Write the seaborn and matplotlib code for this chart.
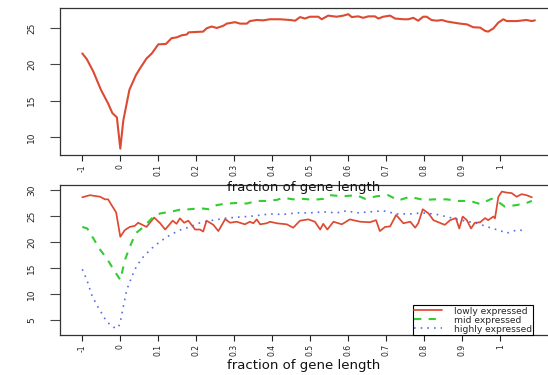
import matplotlib
matplotlib.use("Agg")
import matplotlib.pyplot as plt
import seaborn as sns
import pandas as pd

# ---------------- data (bin position along metagene, value) ----------------
tick_pos = [0, 10, 20, 30, 40, 50, 60, 70, 80, 90, 100, 110]
tick_labels = ["-1", "0", "0.1", "0.2", "0.3", "0.4", "0.5", "0.6", "0.7", "0.8", "0.9", "1"]

top_pos = [0, 1.2, 2.9, 4.9, 6.8, 7.9, 9.1, 10, 10.8, 12.4, 14.1, 15.2, 16.9, 18.3, 20,
           22, 23.5, 24.8, 26.2, 27.5, 28, 31.8, 32.7, 34, 35.4, 37.1, 38, 40.2, 41.5,
           43.3, 44.1, 45.9, 47.6, 49.4, 51.2, 52, 54.7, 56, 57.3, 58.6, 59.9, 62.1, 63,
           64.7, 66.9, 68.7, 70, 70.9, 72.6, 73.9, 75.3, 77, 77.9, 79.2, 81, 82.3, 84.5,
           85.8, 87.1, 88.4, 89.7, 90.6, 91.9, 93.3, 94.6, 95.9, 97.6, 99.4, 101.2, 102.9,
           104.7, 106, 106.8, 108.2, 109.5, 110.8, 111.7, 114.3, 116.9, 118.3, 119.1]
top_val = [21.5, 20.7, 19.0, 16.5, 14.6, 13.3, 12.7, 8.4, 12.3, 16.5, 18.5, 19.45, 20.8, 21.5,
           22.75, 22.8, 23.6, 23.7, 24.0, 24.1, 24.4, 24.5, 24.95, 25.2, 25.0, 25.3, 25.6,
           25.8, 25.6, 25.6, 25.95, 26.1, 26.05, 26.2, 26.2, 26.2, 26.1, 26.0, 26.5, 26.3,
           26.55, 26.55, 26.2, 26.7, 26.55, 26.7, 26.9, 26.5, 26.6, 26.4, 26.6, 26.6, 26.3,
           26.55, 26.7, 26.3, 26.2, 26.2, 26.4, 26.0, 26.55, 26.55, 26.1, 26.0, 26.1, 25.9,
           25.75, 25.6, 25.5, 25.1, 25.05, 24.6, 24.5, 24.95, 25.75, 26.2, 25.95, 25.95,
           26.1, 25.95, 26.05]

low_pos = [0, 2.0, 4.7, 6.0, 6.8, 7.7, 8.9, 10, 11.2, 12.5, 13.8, 14.7, 16.9, 18.9, 20.5,
           21.8, 23.8, 24.8, 25.7, 26.8, 27.9, 29.7, 31.0, 31.8, 32.7, 34.5, 35.8, 37.6,
           38.9, 40.6, 42.8, 44.1, 45.0, 45.9, 46.8, 48.5, 49.4, 51.2, 53.8, 55.5, 57.3,
           59.5, 61.2, 62.6, 63.4, 64.5, 66.1, 68.3, 70.4, 73.1, 75.7, 77.3, 78.3, 79.7,
           81.0, 82.6, 84.5, 86.3, 87.6, 88.4, 89.6, 91.1, 92.4, 93.7, 95.4, 96.8, 98.3,
           99.2, 100.1, 101.2, 102.3, 103.3, 104.7, 106.0, 106.8, 108.2, 108.6, 109.5,
           110.4, 111.7, 113.0, 114.3, 115.6, 116.9, 118.3]
low_val = [28.6, 29.0, 28.7, 28.2, 28.2, 27.1, 25.7, 21.0, 22.3, 22.9, 23.1, 23.7, 22.9,
           24.7, 23.6, 22.4, 24.1, 23.5, 24.55, 23.7, 24.1, 22.4, 22.4, 22.0, 24.1, 23.3,
           22.1, 24.4, 23.7, 23.9, 23.4, 23.9, 23.6, 24.35, 23.4, 23.6, 23.9, 23.6, 23.4,
           22.75, 24.1, 24.35, 23.9, 22.4, 23.5, 22.4, 23.9, 23.4, 24.35, 23.9, 23.8, 24.2,
           22.1, 22.9, 23.0, 25.2, 23.6, 23.9, 22.75, 23.6, 26.3, 25.5, 24.2, 23.8, 23.3,
           24.2, 24.6, 22.6, 24.9, 24.2, 22.6, 23.7, 23.8, 24.6, 24.2, 24.9, 24.55, 28.7,
           29.7, 29.5, 29.4, 28.7, 29.2, 29.0, 28.6]

mid_pos = [0, 1.3, 2.9, 4.7, 6.4, 8.2, 10, 11.2, 12.5, 14.1, 16.1, 18.3, 20.5, 23.1, 25.7,
           28.3, 31.0, 33.2, 35.4, 38.0, 40.6, 43.3, 45.9, 48.5, 51.2, 52.9, 55.5, 58.2,
           60.8, 63.4, 65.2, 68.7, 72.2, 74.4, 77.5, 80.5, 83.2, 86.2, 89.7, 92.8, 95.9,
           98.9, 102.0, 104.7, 107.7, 109.5, 111.2, 114.3, 116.9, 118.3]
mid_val = [22.9, 22.6, 20.7, 18.5, 16.9, 14.75, 12.7, 16.5, 19.1, 21.7, 22.9, 24.55, 25.5,
           25.8, 26.2, 26.3, 26.5, 26.3, 27.1, 27.4, 27.5, 27.4, 27.9, 27.9, 28.1, 28.5,
           28.2, 28.3, 28.1, 28.3, 29.0, 28.8, 29.0, 28.3, 28.8, 29.0, 28.0, 28.7, 28.1,
           28.2, 28.2, 27.9, 27.9, 27.3, 28.3, 27.7, 26.8, 27.1, 27.5, 27.9]

high_pos = [0, 1.2, 2.5, 3.8, 5.1, 6.4, 8.2, 9.5, 10.1, 10.8, 11.7, 13.0, 14.3, 16.1, 18.3,
            20.5, 23.1, 25.7, 28.3, 31.0, 34.5, 38.0, 41.5, 45.0, 49.4, 52.9, 56.4, 59.9,
            63.4, 66.9, 69.6, 72.2, 75.7, 79.2, 82.7, 86.2, 89.7, 93.3, 96.8, 100.3, 103.8,
            107.3, 109.9, 111.7, 114.3, 116.9]
high_val = [14.75, 12.7, 9.8, 7.9, 6.3, 4.7, 3.6, 3.5, 5.0, 7.6, 10.8, 13.3, 15.4, 17.2,
            18.8, 20.1, 21.35, 22.3, 22.9, 23.7, 24.2, 24.6, 24.8, 25.0, 25.4, 25.3, 25.6,
            25.6, 25.8, 25.6, 26.0, 25.6, 25.8, 26.0, 25.4, 25.4, 25.6, 25.3, 24.7, 24.1,
            23.6, 22.75, 22.2, 21.7, 22.3, 22.2]

series_labels = ["lowly expressed", "mid expressed", "highly expressed"]

# ---------------- styling ----------------
sns.set_style("white")
plt.rcParams["font.family"] = ["DejaVu Sans"]

RED = "#dd4a32"
GREEN = "#33cc33"
BLUE = "#5a6ee6"
W, H = 548, 375

fig = plt.figure(figsize=(W / 100, H / 100), dpi=100)
ax1 = fig.add_axes([60 / W, 1 - 155 / H, 488 / W, 147 / H])
ax2 = fig.add_axes([60 / W, 1 - 335 / H, 488 / W, 150 / H])
ax2.set_facecolor("none")
ax1.set_zorder(2)
ax1.set_facecolor("none")

sns.lineplot(x=top_pos, y=top_val, ax=ax1, color=RED, linewidth=1.5, sort=False)

sns.lineplot(x=low_pos, y=low_val, ax=ax2, color=RED, linewidth=1.25, sort=False,
             label=series_labels[0])
sns.lineplot(x=mid_pos, y=mid_val, ax=ax2, color=GREEN, linewidth=1.5, sort=False,
             linestyle=(0, (3.5, 3.5)), label=series_labels[1])
sns.lineplot(x=high_pos, y=high_val, ax=ax2, color=BLUE, linewidth=1.2, sort=False,
             linestyle=(0, (1, 3)), label=series_labels[2])

x0 = (60 - 82.3) / 3.8
x1 = (548 - 82.3) / 3.8
ax1.set_xlim(x0, x1)
ax2.set_xlim(x0, x1)
ax1.set_ylim(7.52, 27.75)
ax2.set_ylim(2.12, 30.96)
ax1.set_yticks([10, 15, 20, 25])
ax2.set_yticks([5, 10, 15, 20, 25, 30])

for ax, ylab_off, axh in ((ax1, 187 - 155, 147), (ax2, 366 - 335, 150)):
    ax.set_xticks(tick_pos)
    ax.set_xticklabels(tick_labels)
    ax.set_ylabel("")
    ax.tick_params(axis="y", length=7, width=0.8, color="#444444", labelsize=6.5,
                   labelrotation=90, pad=10, labelcolor="#222222", left=True)
    ax.tick_params(axis="x", length=4.5, width=0.8, color="#222222", labelsize=5.5,
                   labelrotation=90, pad=2, labelcolor="#222222", bottom=True)
    for lab in ax.get_yticklabels():
        lab.set_va("center")
    ax.spines["right"].set_visible(False)
    for s in ("left", "top", "bottom"):
        ax.spines[s].set_color("#333333")
        ax.spines[s].set_linewidth(0.9)
    ax.set_xlabel("fraction of gene length", fontsize=9.5, color="#111111")
    ax.xaxis.set_label_coords(0.5, -ylab_off / axh)
    ax.xaxis.label.set_va("center")

handles, labels = ax2.get_legend_handles_labels()
leg = ax2.legend(handles, labels, loc="lower left", bbox_to_anchor=(413 / W, 1 - 335 / H),
                 bbox_transform=fig.transFigure, fontsize=6.6, frameon=True, fancybox=False,
                 edgecolor="black", framealpha=1, borderpad=0.15, labelspacing=0.0,
                 handlelength=3.0, handletextpad=1.3, borderaxespad=0)
leg.get_frame().set_linewidth(0.8)

fig.savefig("out.png", dpi=100)
